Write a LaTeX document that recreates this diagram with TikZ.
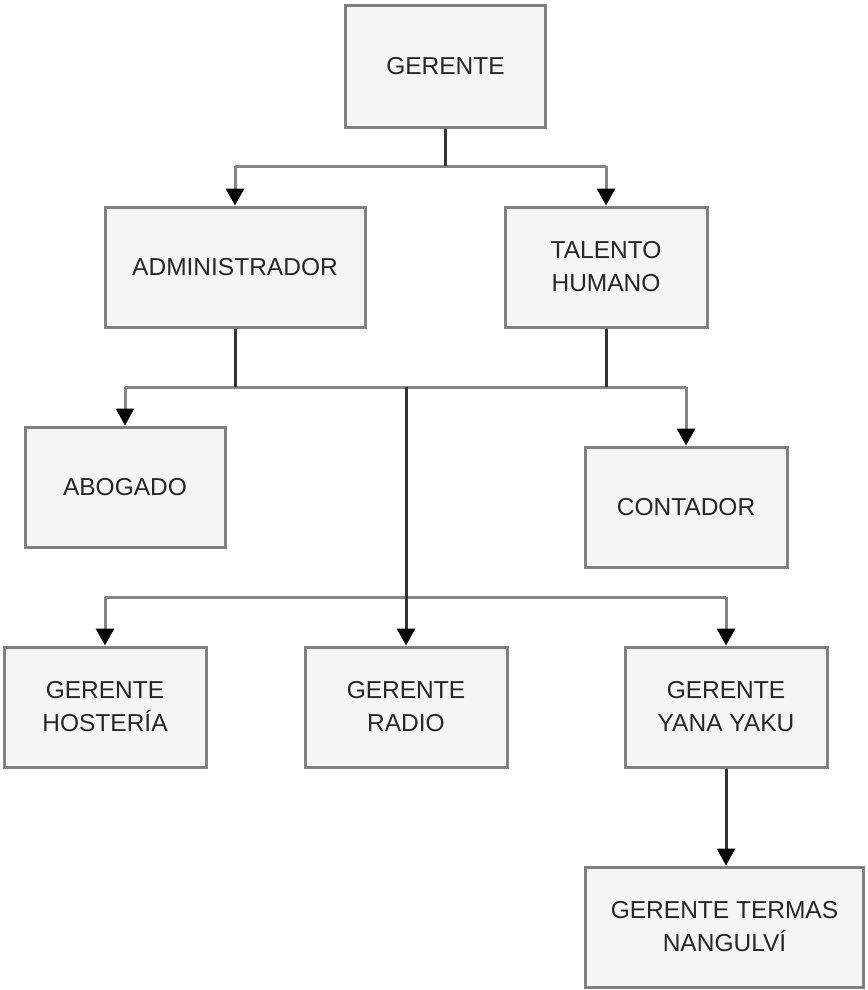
\documentclass[tikz,border=0pt]{standalone}
\usepackage{fontspec}
\setmainfont{Liberation Sans}
\usetikzlibrary{arrows.meta}
\definecolor{boxline}{HTML}{808080}
\definecolor{boxfill}{HTML}{F5F5F5}
\definecolor{stubline}{HTML}{333333}
\definecolor{busline}{HTML}{858585}
\tikzset{
  orgbox/.style={draw=boxline, fill=boxfill, line width=3pt, inner sep=0pt,
    align=center, text=black!85, font=\fontsize{24.5}{33}\selectfont},
  stub/.style={draw=stubline, line width=3pt},
  bus/.style={draw=busline, line width=3pt, line join=miter},
  tip/.style={-{Triangle[width=18pt,length=17pt,color=black,fill=black]}},
}
\begin{document}
\begin{tikzpicture}[x=1pt,y=-1pt]
\useasboundingbox (0,0) rectangle (867,990);
\fill[white] (0,0) rectangle (867,990);

% boxes
\node[orgbox, minimum width=200pt, minimum height=121pt] (ger) at (445.5,66.5) {GERENTE};
\node[orgbox, minimum width=260pt, minimum height=120pt] (adm) at (235,267) {ADMINISTRADOR};
\node[orgbox, minimum width=202pt, minimum height=120pt] (tal) at (606,267) {TALENTO\\HUMANO};
\node[orgbox, minimum width=200pt, minimum height=120pt] (abo) at (125,487) {ABOGADO};
\node[orgbox, minimum width=202pt, minimum height=120pt] (con) at (686,507) {CONTADOR};
\node[orgbox, minimum width=202pt, minimum height=120pt] (hos) at (105,707) {GERENTE\\HOSTERÍA};
\node[orgbox, minimum width=202pt, minimum height=120pt] (rad) at (406,707) {GERENTE\\RADIO};
\node[orgbox, minimum width=202pt, minimum height=120pt] (yan) at (726,707) {GERENTE\\YANA YAKU};
\node[orgbox, minimum width=278pt, minimum height=120pt] (ter) at (724.5,927) {GERENTE TERMAS\\NANGULVÍ};

% bus levels
\coordinate (busTop) at (0,166);
\coordinate (busMid) at (0,387);
\coordinate (busLow) at (0,597);

% GERENTE to its two direct reports
\draw[bus] (adm.north |- busTop) -- (tal.north |- busTop);
\draw[stub] (ger.south) -- (ger.south |- busTop);
\draw[bus, tip] (adm.north |- busTop) -- (adm.north);
\draw[bus, tip] (tal.north |- busTop) -- (tal.north);

% second level
\draw[bus] (abo.north |- busMid) -- (con.north |- busMid);
\draw[stub] (adm.south) -- (adm.south |- busMid);
\draw[stub] (tal.south) -- (tal.south |- busMid);
\draw[bus, tip] (abo.north |- busMid) -- (abo.north);
\draw[bus, tip] (con.north |- busMid) -- (con.north);

% third level
\draw[bus] (hos.north |- busLow) -- (yan.north |- busLow);
\draw[bus, tip] (hos.north |- busLow) -- (hos.north);
\draw[bus, tip] (yan.north |- busLow) -- (yan.north);
\draw[stub, tip] (rad.north |- busMid) -- (rad.north);

% YANA YAKU to TERMAS
\draw[stub, tip] (yan.south) -- (yan.south |- ter.north);
\end{tikzpicture}
\end{document}
